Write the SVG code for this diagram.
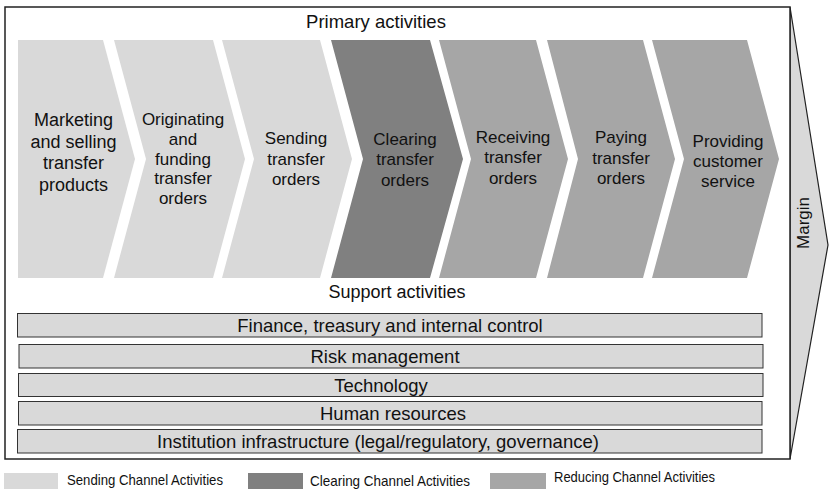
<svg xmlns="http://www.w3.org/2000/svg" width="829" height="489" viewBox="0 0 829 489">
<style>
  text { font-family: "Liberation Sans", Arial, sans-serif; fill: #111; }
  .t18 { font-size: 18px; text-anchor: middle; }
  .t17 { font-size: 17px; text-anchor: middle; }
  .bar { fill: #d9d9d9; stroke: #333; stroke-width: 1; }
  .bt { font-size: 18.5px; text-anchor: middle; }
  .send { fill: #d9d9d9; }
  .clear { fill: #808080; }
  .red { fill: #a6a6a6; }
  .leg { font-size: 14.5px; }
</style>
<rect x="0" y="0" width="829" height="489" fill="#fff"/>
<g id="margin">
  <polygon points="790,7 828,245 790,459" fill="#d9d9d9" stroke="#222" stroke-width="1.2"/>
  <text transform="translate(809,223) rotate(-90)" class="t17">Margin</text>
</g>
<g id="frame">
  <rect x="5" y="7" width="785" height="452" fill="#fff" stroke="#222" stroke-width="1.5"/>
  <text x="376" y="28" class="t18" style="font-size:18.5px">Primary activities</text>
  <text x="397" y="298" class="t18">Support activities</text>
</g>
<g id="connectors"></g>
<g id="chevron1">
  <polygon class="send" points="18,40 103,40 135,159 103,278 18,278"/>
  <text class="t18"><tspan x="73.5" y="126">Marketing</tspan><tspan x="73.5" y="148">and selling</tspan><tspan x="73.5" y="169">transfer</tspan><tspan x="73.5" y="191">products</tspan></text>
</g>
<g id="chevron2">
  <polygon class="send" points="114,40 213,40 245,159 213,278 114,278 146,159"/>
  <text class="t17"><tspan x="183" y="125">Originating</tspan><tspan x="183" y="144.5">and</tspan><tspan x="183" y="164.5">funding</tspan><tspan x="183" y="184">transfer</tspan><tspan x="183" y="204">orders</tspan></text>
</g>
<g id="chevron3">
  <polygon class="send" points="222,40 320,40 352,159 320,278 222,278 254,159"/>
  <text class="t17"><tspan x="296" y="144">Sending</tspan><tspan x="296" y="165">transfer</tspan><tspan x="296" y="185">orders</tspan></text>
</g>
<g id="chevron4">
  <polygon class="clear" points="331,40 430,40 463,159 430,278 331,278 363,159"/>
  <text class="t17"><tspan x="405" y="145">Clearing</tspan><tspan x="405" y="165">transfer</tspan><tspan x="405" y="186">orders</tspan></text>
</g>
<g id="chevron5">
  <polygon class="red" points="439,40 536,40 568,159 536,278 439,278 471,159"/>
  <text class="t17"><tspan x="513" y="143">Receiving</tspan><tspan x="513" y="163">transfer</tspan><tspan x="513" y="184">orders</tspan></text>
</g>
<g id="chevron6">
  <polygon class="red" points="547,40 643,40 675,159 643,278 547,278 578,159"/>
  <text class="t17"><tspan x="621" y="143">Paying</tspan><tspan x="621" y="164">transfer</tspan><tspan x="621" y="184">orders</tspan></text>
</g>
<g id="chevron7">
  <polygon class="red" points="652,40 747,40 779,159 747,278 652,278 684,159"/>
  <text class="t17"><tspan x="728" y="147">Providing</tspan><tspan x="728" y="167">customer</tspan><tspan x="728" y="187">service</tspan></text>
</g>
<g id="support1">
  <rect class="bar" x="17.5" y="313.5" width="744.5" height="23.5"/>
  <text class="bt" x="390" y="332">Finance, treasury and internal control</text>
</g>
<g id="support2">
  <rect class="bar" x="19" y="344.5" width="744" height="23.5"/>
  <text class="bt" x="385" y="362.5">Risk management</text>
</g>
<g id="support3">
  <rect class="bar" x="18.5" y="373.5" width="744.5" height="23"/>
  <text class="bt" x="381" y="391.5">Technology</text>
</g>
<g id="support4">
  <rect class="bar" x="18.5" y="401.5" width="743.5" height="23.5"/>
  <text class="bt" x="393" y="419.5">Human resources</text>
</g>
<g id="support5">
  <rect class="bar" x="17.5" y="429.5" width="744.5" height="23.5"/>
  <text class="bt" x="378" y="448">Institution infrastructure (legal/regulatory, governance)</text>
</g>
<g id="legend">
  <rect class="send" x="4" y="473" width="54" height="16"/>
  <text class="leg" x="67" y="485" textLength="156" lengthAdjust="spacingAndGlyphs">Sending Channel Activities</text>
  <rect class="clear" x="248" y="473" width="55" height="16"/>
  <text class="leg" x="310" y="485.5" textLength="160" lengthAdjust="spacingAndGlyphs">Clearing Channel Activities</text>
  <rect class="red" x="490" y="473" width="56" height="16"/>
  <text class="leg" x="554" y="482" textLength="161" lengthAdjust="spacingAndGlyphs">Reducing Channel Activities</text>
</g>
</svg>
